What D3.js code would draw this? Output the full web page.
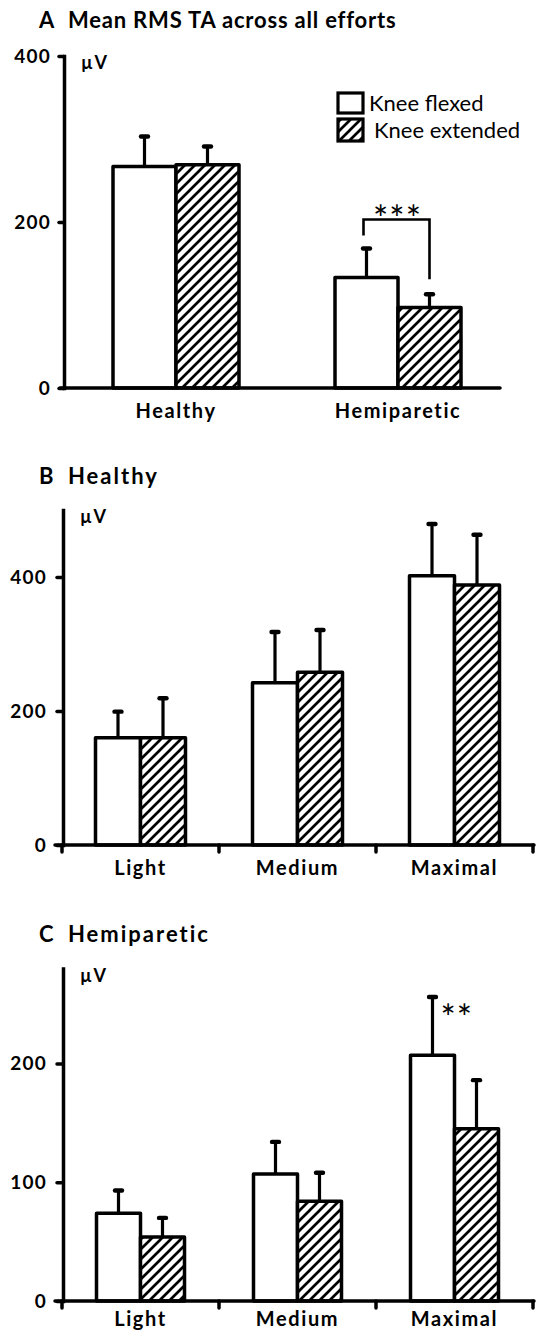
<!DOCTYPE html>
<html>
<head>
<meta charset="utf-8">
<script src="https://cdn.jsdelivr.net/npm/d3@7"></script>
<style>
  body { margin: 0; background: #fff; }
  svg { display: block; font-family: Lato, "Open Sans", sans-serif; }
  .ttl { font-weight: 700; font-size: 22px; fill: #000; }
  .unit { font-weight: 700; font-size: 18px; letter-spacing: 1.5px; fill: #000; }
  .lg { font-weight: 400; font-size: 22px; fill: #000; }
  .sig { font-weight: 400; font-size: 36px; letter-spacing: 1px; fill: #000; }
</style>
</head>
<body>
<svg id="fig" width="536" height="1332"></svg>
<script>
// Tibialis anterior RMS EMG (µV), mean + SD, knee flexed vs knee extended
const seriesNames = ["Knee flexed", "Knee extended"];

// A: mean over all effort levels
const groupsA = ["Healthy", "Hemiparetic"];
const flexedA = [267, 133];
const flexedSdA = [36, 35];
const extendedA = [269, 97];
const extendedSdA = [22, 16];
const ticksA = [0, 200, 400];

// B and C: by effort level
const efforts = ["Light", "Medium", "Maximal"];

const flexedB = [160, 242, 402];
const flexedSdB = [39, 76, 77];
const extendedB = [160, 258, 388];
const extendedSdB = [59, 63, 75];
const ticksB = [0, 200, 400];

const flexedC = [74, 107, 207];
const flexedSdC = [19, 27, 49];
const extendedC = [54, 84, 145];
const extendedSdC = [16, 24, 41];
const ticksC = [0, 100, 200];

const svg = d3.select("#fig");
const defs = svg.append("defs");

// diagonal hatching for the knee-extended bars
const hatch = defs.append("pattern")
  .attr("id", "hatch")
  .attr("patternUnits", "userSpaceOnUse")
  .attr("width", 10).attr("height", 10);
hatch.append("rect").attr("width", 10).attr("height", 10).attr("fill", "#fff");
hatch.append("path")
  .attr("d", "M-1,11 L11,-1 M-6,6 L6,-6 M4,16 L16,4")
  .attr("stroke", "#000").attr("stroke-width", 2.7);

const fills = ["#fff", "url(#hatch)"];

function panel(o) {
  const g = svg.append("g");

  g.append("text").attr("class", "ttl").attr("x", 39).attr("y", o.titleY).text(o.letter);
  g.append("text").attr("class", "ttl").attr("x", 68).attr("y", o.titleY)
    .attr("letter-spacing", o.titleSpacing).text(o.title);

  const y = d3.scaleLinear().domain([0, o.yMax]).range([o.y0, o.yTop]);
  const x = d3.scaleBand().domain(o.categories).range(o.xRange);
  const bw = o.barWidth;

  const rows = [];
  o.categories.forEach((c, i) => {
    rows.push({ c, s: 0, v: o.flexed[i], sd: o.flexedSd[i] });
    rows.push({ c, s: 1, v: o.extended[i], sd: o.extendedSd[i] });
  });
  // bar centre: flexed to the left of the category centre, extended to the right
  const cx = d => x(d.c) + x.bandwidth() / 2 + (d.s === 0 ? -bw / 2 : bw / 2);

  // error bars (upper SD only)
  const eb = g.append("g").attr("stroke", "#000").attr("stroke-linecap", "round");
  eb.selectAll("line.stem").data(rows).join("line").attr("class", "stem")
    .attr("x1", cx).attr("x2", cx)
    .attr("y1", d => y(d.v)).attr("y2", d => y(d.v + d.sd))
    .attr("stroke-width", 3.2);
  eb.selectAll("line.cap").data(rows).join("line").attr("class", "cap")
    .attr("x1", d => cx(d) - 3.5).attr("x2", d => cx(d) + 3.5)
    .attr("y1", d => y(d.v + d.sd)).attr("y2", d => y(d.v + d.sd))
    .attr("stroke-width", 4.4);

  // bars
  g.append("g").selectAll("rect").data(rows).join("rect")
    .attr("x", d => cx(d) - bw / 2)
    .attr("width", bw)
    .attr("y", d => y(d.v))
    .attr("height", d => y(0) - y(d.v))
    .attr("fill", d => fills[d.s])
    .attr("stroke", "#000")
    .attr("stroke-width", 3.5)
    .attr("stroke-linejoin", "round");

  // y axis
  const ya = g.append("g")
    .attr("transform", `translate(${o.axisX},0)`)
    .call(d3.axisLeft(y).tickValues(o.ticks).tickSize(o.tickLen).tickSizeOuter(0).tickPadding(o.tickPad));
  ya.select(".domain").attr("stroke-width", 3.5).attr("stroke-linecap", "square");
  ya.selectAll(".tick line").attr("stroke-width", 3.5).attr("stroke-linecap", "round");
  ya.selectAll(".tick text")
    .attr("font-family", "Lato, 'Open Sans', sans-serif")
    .attr("font-size", 19).attr("font-weight", 700).attr("letter-spacing", 1.2)
    .attr("fill", "#000");

  // x axis baseline
  g.append("line")
    .attr("x1", o.xAxisFrom).attr("x2", o.xAxisTo)
    .attr("y1", y(0)).attr("y2", y(0))
    .attr("stroke", "#000").attr("stroke-width", 3.5).attr("stroke-linecap", "round");

  if (o.boundaryTicks) {
    const bounds = o.categories.map(c => x(c)).concat([x.range()[1]]);
    g.append("g").selectAll("line").data(bounds).join("line")
      .attr("x1", d => d).attr("x2", d => d)
      .attr("y1", y(0)).attr("y2", y(0) + 7)
      .attr("stroke", "#000").attr("stroke-width", 3.5).attr("stroke-linecap", "round");
  }

  const xa = g.append("g")
    .attr("transform", `translate(0,${y(0)})`)
    .call(d3.axisBottom(x).tickSize(0).tickPadding(o.catPad));
  xa.select(".domain").remove();
  xa.selectAll(".tick text")
    .attr("font-family", "Lato, 'Open Sans', sans-serif")
    .attr("font-size", 20).attr("font-weight", 700).attr("letter-spacing", 1.6)
    .attr("fill", "#000");

  // unit label
  g.append("text").attr("class", "unit")
    .attr("x", o.axisX + 17).attr("y", o.yTop + 13).text("µV");

  return { g, x, y, cx, rows };
}

// ---- Panel A ----
const A = panel({
  letter: "A", title: "Mean RMS TA across all efforts", titleY: 28, titleSpacing: 0.8,
  categories: groupsA, flexed: flexedA, flexedSd: flexedSdA, extended: extendedA, extendedSd: extendedSdA,
  yMax: 400, y0: 388, yTop: 56, ticks: ticksA,
  xRange: [65, 509], barWidth: 63, axisX: 64, tickLen: 5, tickPad: 8,
  xAxisFrom: 60, xAxisTo: 500, boundaryTicks: false, catPad: 16
});

// legend
const legend = A.g.append("g");
seriesNames.forEach((name, i) => {
  legend.append("rect")
    .attr("x", 338).attr("y", 93 + i * 26).attr("width", 25).attr("height", 20 + i * 2)
    .attr("fill", fills[i]).attr("stroke", "#000").attr("stroke-width", 3.2);
  legend.append("text").attr("class", "lg")
    .attr("x", 369 + i * 5).attr("y", 111 + i * 27).text(name);
});

// significance bracket between the two hemiparetic bars
{
  const hemi = A.rows.filter(d => d.c === "Hemiparetic");
  const xl = A.cx(hemi[0]) - 3, xr = A.cx(hemi[1]);
  const yl = A.y(hemi[0].v + hemi[0].sd) - 13;
  const yr = A.y(hemi[1].v + hemi[1].sd) - 15;
  const yt = A.y(hemi[0].v + hemi[0].sd) - 29;
  A.g.append("path")
    .attr("d", `M${xl},${yl} V${yt} H${xr} V${yr}`)
    .attr("fill", "none").attr("stroke", "#000").attr("stroke-width", 2.6);
  A.g.append("text").attr("class", "sig")
    .attr("x", (xl + xr) / 2 + 1).attr("y", yt + 12)
    .attr("text-anchor", "middle").text("***");
}

// ---- Panel B ----
panel({
  letter: "B", title: "Healthy", titleY: 484, titleSpacing: 2,
  categories: efforts, flexed: flexedB, flexedSd: flexedSdB, extended: extendedB, extendedSd: extendedSdB,
  yMax: 500, y0: 845, yTop: 510, ticks: ticksB,
  xRange: [62, 533], barWidth: 45, axisX: 63, tickLen: 6, tickPad: 10,
  xAxisFrom: 55, xAxisTo: 534, boundaryTicks: true, catPad: 16
});

// ---- Panel C ----
const C = panel({
  letter: "C", title: "Hemiparetic", titleY: 942, titleSpacing: 2,
  categories: efforts, flexed: flexedC, flexedSd: flexedSdC, extended: extendedC, extendedSd: extendedSdC,
  yMax: 280, y0: 1301, yTop: 968.5, ticks: ticksC,
  xRange: [62, 533], barWidth: 44, axisX: 63, tickLen: 6, tickPad: 10,
  xAxisFrom: 55, xAxisTo: 534, boundaryTicks: true, catPad: 11
});

// flexed vs extended at maximal effort
{
  const m = C.rows.find(d => d.c === "Maximal" && d.s === 0);
  C.g.append("text").attr("class", "sig")
    .attr("x", C.cx(m) + 8).attr("y", C.y(m.v + m.sd) + 34).text("**");
}
</script>
</body>
</html>
